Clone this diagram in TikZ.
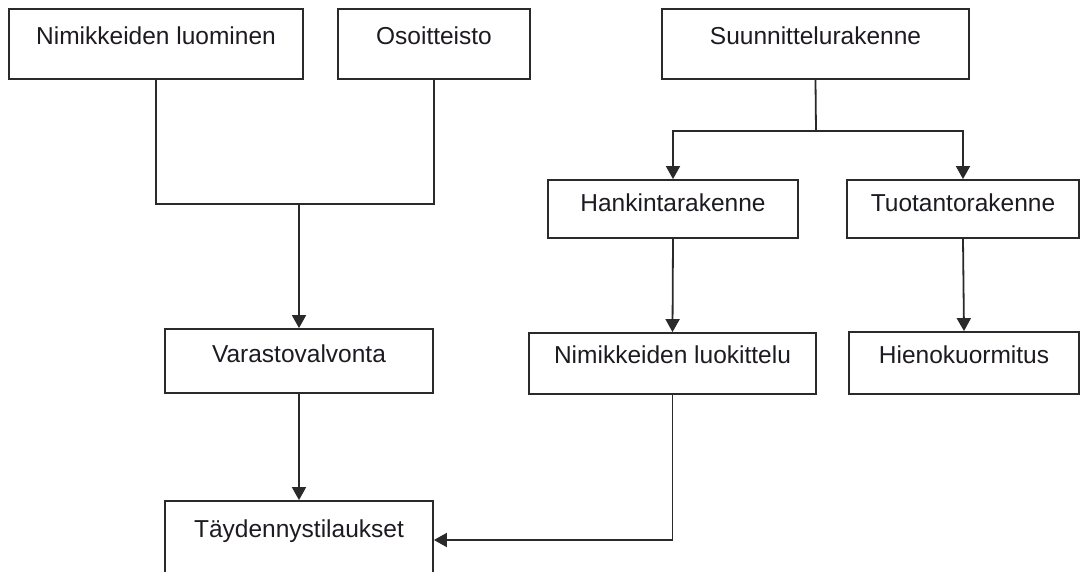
\documentclass[tikz,border=0pt]{standalone}
\usepackage{fontspec}
\setmainfont{Liberation Sans}
\usetikzlibrary{arrows.meta}
\definecolor{ink}{HTML}{1E1A22}
\definecolor{edge}{HTML}{2A2A2A}
\begin{document}
\begin{tikzpicture}[x=1pt,y=-1pt,
  box/.style={draw=edge,line width=1.8pt,fill=white,inner sep=0pt,rectangle},
  lbl/.style={anchor=base,inner sep=0pt,text=ink,font=\fontsize{24.5}{29}\selectfont},
  link/.style={draw=edge,line width=1.8pt},
  flow/.style={link,-{Triangle[length=13pt,width=14pt]}}]
\useasboundingbox[fill=white] (0,0) rectangle (1080,571);

% boxes: centre, width, height
\node[box,minimum width=294pt,minimum height=70pt] (luo) at (156,44) {};
\node[box,minimum width=192pt,minimum height=70pt] (osa) at (434,44) {};
\node[box,minimum width=307pt,minimum height=70pt] (suu) at (815.5,44) {};
\node[box,minimum width=250pt,minimum height=58pt] (han) at (673,209) {};
\node[box,minimum width=232pt,minimum height=58pt] (tuo) at (963,209) {};
\node[box,minimum width=268pt,minimum height=64pt] (var) at (299,361) {};
\node[box,minimum width=287pt,minimum height=61pt] (lk) at (672.5,363.5) {};
\node[box,minimum width=230pt,minimum height=62pt] (hie) at (964,363) {};
\node[box,minimum width=268pt,minimum height=78pt] (tay) at (299,540) {};

% texts, set on their baselines near the top of each box
\node[lbl] (tluo) at (156,44) {Nimikkeiden luominen};
\node[lbl] (tosa) at (434,44) {Osoitteisto};
\node[lbl] (tsuu) at (815.5,44) {Suunnittelurakenne};
\node[lbl] (than) at (673,211) {Hankintarakenne};
\node[lbl] (ttuo) at (963,211) {Tuotantorakenne};
\node[lbl] (tvar) at (299,362) {Varastovalvonta};
\node[lbl] (tlk) at (672.5,363) {Nimikkeiden luokittelu};
\node[lbl] (thie) at (964,363) {Hienokuormitus};
\node[lbl] (ttay) at (299,537) {Täydennystilaukset};

% junction points of the branching connectors
\coordinate (j1) at (299,204);
\coordinate (j2) at (816,131);

% connectors
\draw[link] (luo.south) |- (j1) -| (osa.south);
\draw[flow] (j1) -- (var.north);
\draw[link] (suu.south) -- (j2);
\draw[flow] (j2) -| (han.north);
\draw[flow] (j2) -| (tuo.north);
\draw[flow] (han.south) -- (lk.north);
\draw[flow] (tuo.south) -- (hie.north);
\draw[flow] (var.south) -- (tay.north);
\draw[flow] (lk.south) |- (tay.east);
\end{tikzpicture}
\end{document}
